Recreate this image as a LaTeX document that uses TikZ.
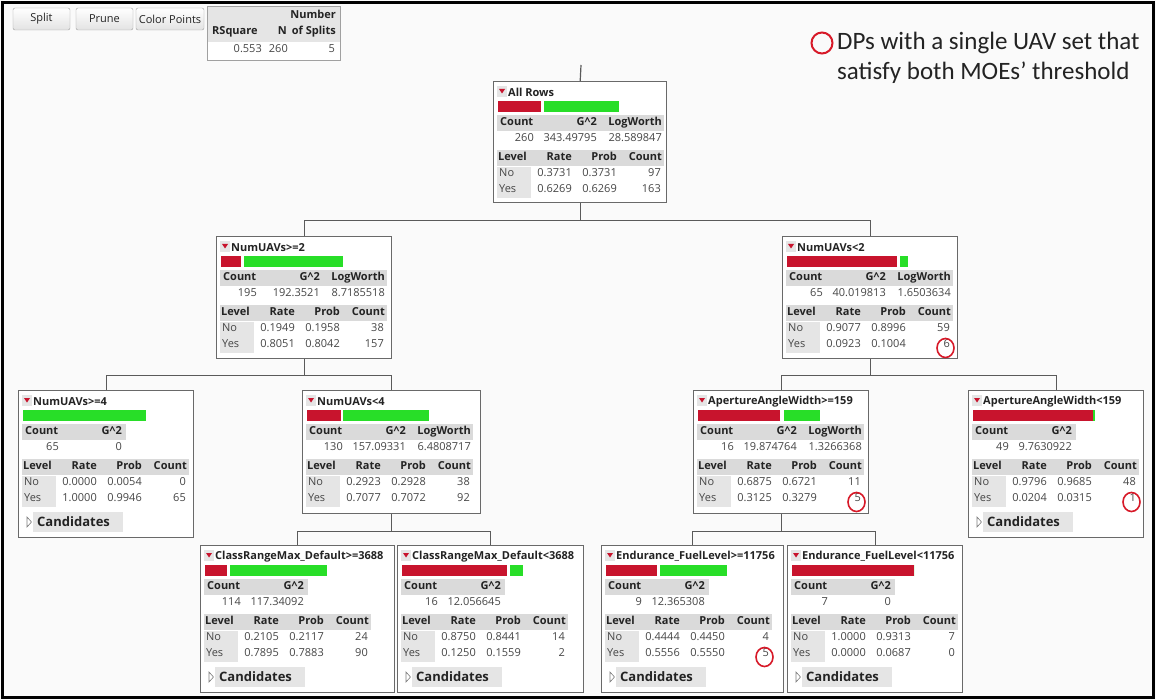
\documentclass[tikz,border=0pt]{standalone}
\usepackage{fontspec}
\setmainfont{Open Sans}
\newfontfamily\keyfont{Carlito}
\usetikzlibrary{positioning}
\definecolor{barred}{RGB}{200,20,45}
\definecolor{bargreen}{RGB}{40,222,40}
\definecolor{hdrgray}{RGB}{218,218,218}
\definecolor{colgray}{RGB}{229,229,229}
\definecolor{boxgray}{RGB}{105,105,105}
\definecolor{linkgray}{RGB}{90,90,90}
\definecolor{txtdark}{RGB}{35,35,35}
\definecolor{txtgray}{RGB}{70,70,70}
\definecolor{ringred}{RGB}{215,25,40}
\definecolor{pagebg}{RGB}{250,250,250}
\definecolor{btnline}{RGB}{160,160,160}

\tikzset{
  splitbox/.style={draw=boxgray, line width=1.4pt, fill=white, anchor=north west, inner sep=0pt},
  link/.style={draw=linkgray, line width=1.2pt},
  ttl/.style={inner sep=0pt, text=txtdark, font=\fontsize{11}{13}\bfseries},
  hd/.style={inner sep=0pt, text height=8pt, text depth=2.4pt, text=txtdark, font=\fontsize{11}{13}\bfseries},
  vl/.style={inner sep=0pt, text height=8pt, text depth=2.4pt, text=txtgray, font=\fontsize{11}{13}\selectfont},
  cand/.style={inner sep=0pt, text=txtdark, font=\fontsize{13}{15}\bfseries},
  btn/.style={draw=btnline, rounded corners=2pt, top color=white, bottom color=gray!22,
    minimum height=22pt, inner sep=0pt, text=txtdark, font=\fontsize{11}{13}\selectfont},
  keyring/.style={circle, draw=ringred, line width=2pt, minimum size=21pt, inner sep=0pt},
  keytext/.style={inner sep=0pt, align=left, text=txtdark, font=\keyfont\fontsize{25}{30}\selectfont}
}

% box of one split: name, left, top, width, height
\newcommand*{\splitnode}[5]{\node[splitbox, minimum width=#4, minimum height=#5] (#1) at (#2,#3) {};}
% title and bars: name, title, red end, green start, green end
\newcommand*{\nodehead}[5]{%
  \begin{scope}[shift={(#1.north west)}]
    \fill[colgray] (4,5) rectangle (14,16);
    \fill[barred] (6,8) -- (12,8) -- (9,12.5) -- cycle;
    \node[ttl, anchor=west] (#1-ttl) at (15,11.5) {#2};
    \fill[barred] (5,20) rectangle (#3,31);
    \fill[bargreen] (#4,20) rectangle (#5,31);
  \end{scope}}
% count, G^2, LogWorth
\newcommand*{\gsqlog}[4]{%
  \begin{scope}[shift={(#1.north west)}]
    \fill[hdrgray] (4,34) rectangle (171,50);
    \node[hd, anchor=west] (#1-ch) at (7,42) {Count};
    \node[hd, anchor=east] (#1-gh) at (104,42) {G\textasciicircum2};
    \node[hd, anchor=east] (#1-lh) at (169,42) {LogWorth};
    \node[vl, anchor=east] (#1-c) at (41,58) {#2};
    \node[vl, anchor=east] (#1-g) at (104,58) {#3};
    \node[vl, anchor=east] (#1-l) at (169,58) {#4};
  \end{scope}}
% count, G^2 only
\newcommand*{\gsqonly}[3]{%
  \begin{scope}[shift={(#1.north west)}]
    \fill[hdrgray] (4,34) rectangle (108,50);
    \node[hd, anchor=west] (#1-ch) at (7,42) {Count};
    \node[hd, anchor=east] (#1-gh) at (104,42) {G\textasciicircum2};
    \node[vl, anchor=east] (#1-c) at (41,58) {#2};
    \node[vl, anchor=east] (#1-g) at (104,58) {#3};
  \end{scope}}
% level table: rate, prob, count for No then Yes
\newcommand*{\leveltab}[7]{%
  \begin{scope}[shift={(#1.north west)}]
    \fill[hdrgray] (4,69) rectangle (171,85);
    \fill[colgray] (4,86) rectangle (38,117);
    \node[hd, anchor=west] (#1-lv) at (5,77) {Level};
    \node[hd, anchor=east] (#1-rt) at (79,77) {Rate};
    \node[hd, anchor=east] (#1-pb) at (124,77) {Prob};
    \node[hd, anchor=east] (#1-ct) at (169,77) {Count};
    \node[vl, anchor=west] (#1-no) at (6,93) {No};
    \node[vl, anchor=west] (#1-yes) at (6,109) {Yes};
    \node[vl, anchor=east] (#1-rn) at (79,93) {#2};
    \node[vl, anchor=east] (#1-pn) at (124,93) {#3};
    \node[vl, anchor=east] (#1-cn) at (168,93) {#4};
    \node[vl, anchor=east] (#1-ry) at (79,109) {#5};
    \node[vl, anchor=east] (#1-py) at (124,109) {#6};
    \node[vl, anchor=east] (#1-cy) at (168,109) {#7};
  \end{scope}}
\newcommand*{\candrow}[1]{%
  \begin{scope}[shift={(#1.north west)}]
    \draw[txtgray!70, line width=0.6pt] (9,127) -- (13.5,132) -- (9,137) -- cycle;
    \fill[colgray] (15,122) rectangle (105,142);
    \node[cand, anchor=west] (#1-cand) at (19,132) {Candidates};
  \end{scope}}
\newcommand*{\markyes}[1]{\draw[ringred, line width=1.6pt] ([shift={(163.5,112)}]#1.north west) ellipse (8.5 and 9.5);}

\begin{document}
\begin{tikzpicture}[x=1pt, y=-1pt]
    \useasboundingbox (0,0) rectangle (1156,700);
    \fill[pagebg] (0,0) rectangle (1156,700);
    \draw[line width=3pt] (2.5,2.5) rectangle (1153.5,697.5);

    % buttons and fit table
    \node[btn, minimum width=57pt] (splitbtn) at (41.5,19) {Split};
    \node[btn, minimum width=57pt] (prunebtn) at (104.5,19) {Prune};
    \node[btn, minimum width=68pt] (colorbtn) at (170,19) {Color Points};
    \fill[colgray] (207,6) rectangle (340,42);
    \fill[white] (207,42) rectangle (340,60);
    \draw[btnline, line width=0.8pt] (207,6) rectangle (340,60);
    \node[hd, anchor=east] (nsplith) at (336,16) {Number};
    \node[hd, anchor=west] (rsqh) at (212,32) {RSquare};
    \node[hd, anchor=east] (nh) at (287,32) {N};
    \node[hd, anchor=east] (splith) at (336,32) {of Splits};
    \node[vl, anchor=east] (rsq) at (262,50) {0.553};
    \node[vl, anchor=east] (nval) at (288,50) {260};
    \node[vl, anchor=east] (nsplit) at (335,50) {5};

    % key
    \node[keyring] (keyring) at (822,43) {};
    \node[keytext, anchor=west] (keytext) at (837,58) {DPs with a single UAV set that\\satisfy both MOEs’ threshold};

    % tree
    \splitnode{root}{493}{81}{173}{121}
    \nodehead{root}{All Rows}{48}{51}{126}
    \gsqlog{root}{260}{343.49795}{28.589847}
    \leveltab{root}{0.3731}{0.3731}{97}{0.6269}{0.6269}{163}

    \splitnode{numge2}{216}{236}{175}{122}
    \nodehead{numge2}{NumUAVs>=2}{25}{28}{127}
    \gsqlog{numge2}{195}{192.3521}{8.7185518}
    \leveltab{numge2}{0.1949}{0.1958}{38}{0.8051}{0.8042}{157}

    \splitnode{numlt2}{782}{236}{175}{122}
    \nodehead{numlt2}{NumUAVs<2}{115}{118}{126}
    \gsqlog{numlt2}{65}{40.019813}{1.6503634}
    \leveltab{numlt2}{0.9077}{0.8996}{59}{0.0923}{0.1004}{6}
    \markyes{numlt2}

    \splitnode{numge4}{18}{390}{175}{147}
    \nodehead{numge4}{NumUAVs>=4}{5}{5}{128}
    \gsqonly{numge4}{65}{0}
    \leveltab{numge4}{0.0000}{0.0054}{0}{1.0000}{0.9946}{65}
    \candrow{numge4}

    \splitnode{numlt4}{302}{390}{178}{123}
    \nodehead{numlt4}{NumUAVs<4}{39}{41}{127}
    \gsqlog{numlt4}{130}{157.09331}{6.4808717}
    \leveltab{numlt4}{0.2923}{0.2928}{38}{0.7077}{0.7072}{92}

    \splitnode{awge}{693}{390}{175}{123}
    \nodehead{awge}{ApertureAngleWidth>=159}{87}{91}{127}
    \gsqlog{awge}{16}{19.874764}{1.3266368}
    \leveltab{awge}{0.6875}{0.6721}{11}{0.3125}{0.3279}{5}
    \markyes{awge}

    \splitnode{awlt}{968}{390}{175}{147}
    \nodehead{awlt}{ApertureAngleWidth<159}{125}{125}{127}
    \gsqonly{awlt}{49}{9.7630922}
    \leveltab{awlt}{0.9796}{0.9685}{48}{0.0204}{0.0315}{1}
    \candrow{awlt}
    \markyes{awlt}

    \splitnode{crge}{200}{545}{194}{147}
    \nodehead{crge}{ClassRangeMax\_Default>=3688}{27}{30}{127}
    \gsqonly{crge}{114}{117.34092}
    \leveltab{crge}{0.2105}{0.2117}{24}{0.7895}{0.7883}{90}
    \candrow{crge}

    \splitnode{crlt}{397}{545}{186}{147}
    \nodehead{crlt}{ClassRangeMax\_Default<3688}{110}{113}{126}
    \gsqonly{crlt}{16}{12.056645}
    \leveltab{crlt}{0.8750}{0.8441}{14}{0.1250}{0.1559}{2}
    \candrow{crlt}

    \splitnode{enge}{601}{545}{182}{147}
    \nodehead{enge}{Endurance\_FuelLevel>=11756}{56}{59}{126}
    \gsqonly{enge}{9}{12.365308}
    \leveltab{enge}{0.4444}{0.4450}{4}{0.5556}{0.5550}{5}
    \candrow{enge}
    \markyes{enge}

    \splitnode{enlt}{787}{545}{175}{147}
    \nodehead{enlt}{Endurance\_FuelLevel<11756}{127}{127}{127}
    \gsqonly{enlt}{7}{0}
    \leveltab{enlt}{1.0000}{0.9313}{7}{0.0000}{0.0687}{0}
    \candrow{enlt}

    % connectors
    \coordinate (rootin) at (581,65);
    \draw[link] (rootin) -- (root.north);
    \draw[link] (root.south) -- ++(0,17) -| (numge2.north);
    \draw[link] (root.south) -- ++(0,17) -| (numlt2.north);
    \draw[link] (numge2.south) -- ++(0,16) -| (numge4.north);
    \draw[link] (numge2.south) -- ++(0,16) -| (numlt4.north);
    \draw[link] (numlt2.south) -- ++(0,16) -| (awge.north);
    \draw[link] (numlt2.south) -- ++(0,16) -| (awlt.north);
    \draw[link] (numlt4.south) -- ++(0,17) -| (crge.north);
    \draw[link] (numlt4.south) -- ++(0,17) -| (crlt.north);
    \draw[link] (awge.south) -- ++(0,17) -| (enge.north);
    \draw[link] (awge.south) -- ++(0,17) -| (enlt.north);
\end{tikzpicture}
\end{document}
